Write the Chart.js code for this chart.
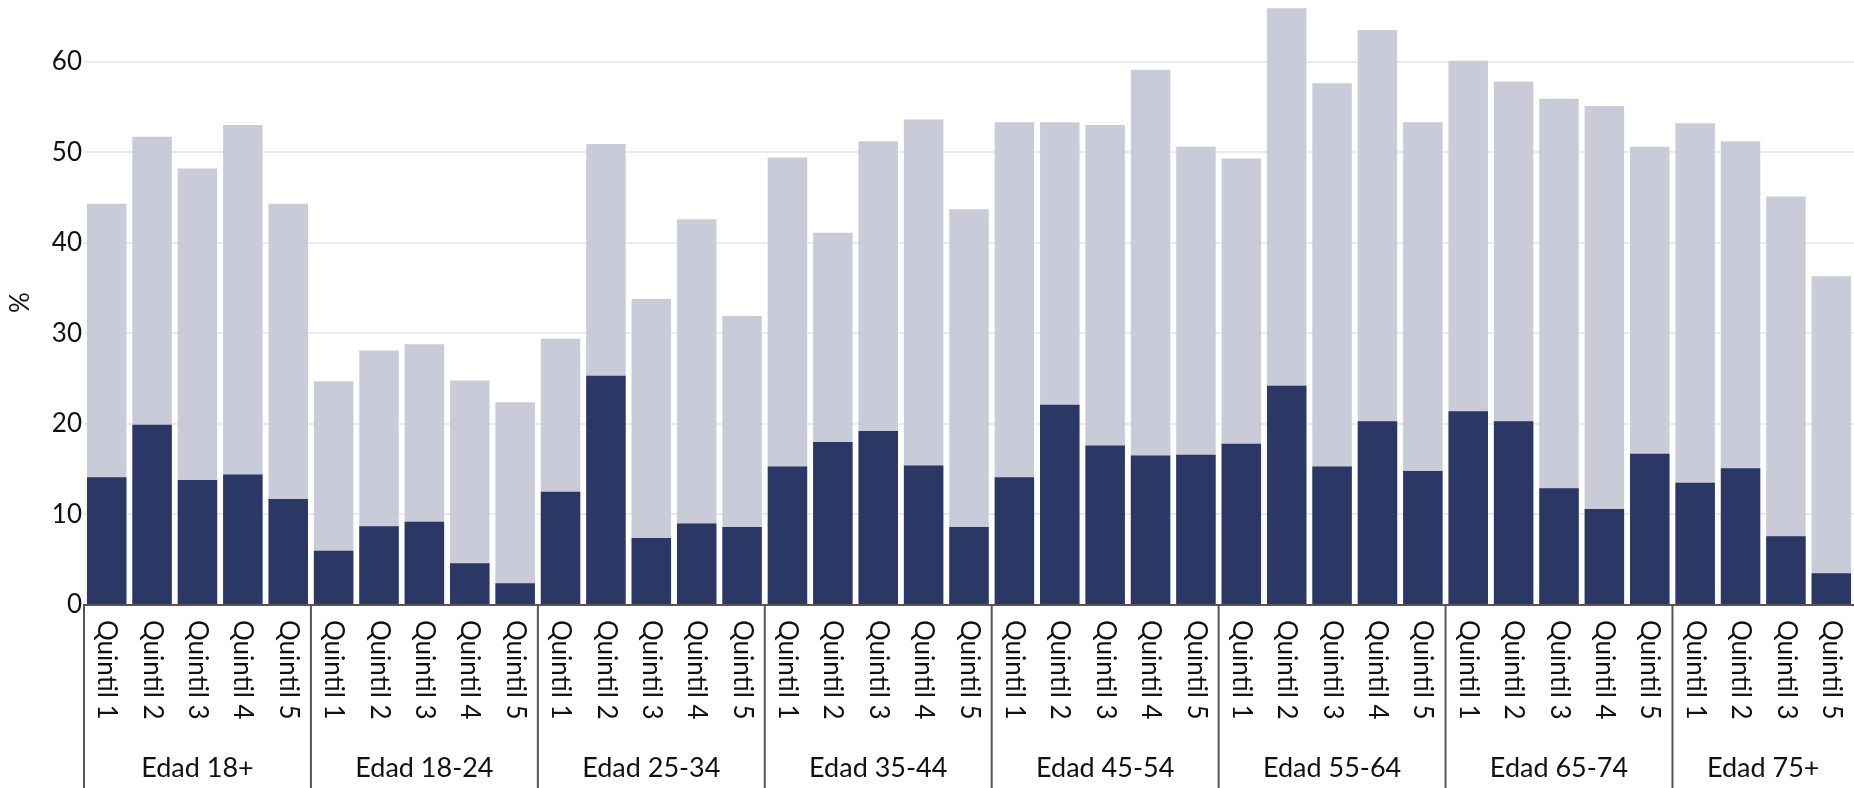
<!DOCTYPE html>
<html>
<head>
<meta charset="utf-8">
<script src="https://cdn.jsdelivr.net/npm/chart.js@4/dist/chart.umd.min.js"></script>
<style>
    html, body { margin: 0; padding: 0; background: #fff; }
    #wrap { width: 1854px; height: 788px; }
</style>
</head>
<body>
<div id="wrap"><canvas id="grafico"></canvas></div>
<script>
const grupos = ['Edad 18+', 'Edad 18-24', 'Edad 25-34', 'Edad 35-44', 'Edad 45-54', 'Edad 55-64', 'Edad 65-74', 'Edad 75+'];
const quintiles = [
    ['Quintil 1', 'Quintil 2', 'Quintil 3', 'Quintil 4', 'Quintil 5'],
    ['Quintil 1', 'Quintil 2', 'Quintil 3', 'Quintil 4', 'Quintil 5'],
    ['Quintil 1', 'Quintil 2', 'Quintil 3', 'Quintil 4', 'Quintil 5'],
    ['Quintil 1', 'Quintil 2', 'Quintil 3', 'Quintil 4', 'Quintil 5'],
    ['Quintil 1', 'Quintil 2', 'Quintil 3', 'Quintil 4', 'Quintil 5'],
    ['Quintil 1', 'Quintil 2', 'Quintil 3', 'Quintil 4', 'Quintil 5'],
    ['Quintil 1', 'Quintil 2', 'Quintil 3', 'Quintil 4', 'Quintil 5'],
    ['Quintil 1', 'Quintil 2', 'Quintil 3', 'Quintil 5']
];

// barra clara (total) y barra oscura, en el mismo orden que las etiquetas
const valoresTotal = [
    44.3, 51.7, 48.2, 53.0, 44.3,
    24.7, 28.1, 28.8, 24.8, 22.4,
    29.4, 50.9, 33.8, 42.6, 31.9,
    49.4, 41.1, 51.2, 53.6, 43.7,
    53.3, 53.3, 53.0, 59.1, 50.6,
    49.3, 65.9, 57.6, 63.5, 53.3,
    60.1, 57.8, 55.9, 55.1, 50.6,
    53.2, 51.2, 45.1, 36.3
];
const valoresOscuro = [
    14.1, 19.9, 13.8, 14.4, 11.7,
    6.0, 8.7, 9.2, 4.6, 2.4,
    12.5, 25.3, 7.4, 9.0, 8.6,
    15.3, 18.0, 19.2, 15.4, 8.6,
    14.1, 22.1, 17.6, 16.5, 16.6,
    17.8, 24.2, 15.3, 20.3, 14.8,
    21.4, 20.3, 12.9, 10.6, 16.7,
    13.5, 15.1, 7.6, 3.5
];
const ticksY = [0, 10, 20, 30, 40, 50, 60];

var etiquetas = [];
var inicioGrupo = [];
for (let g = 0; g < grupos.length; g++) {
    inicioGrupo.push(etiquetas.length);
    for (let q = 0; q < quintiles[g].length; q++) {
        etiquetas.push(quintiles[g][q]);
    }
}

const fuente = 'Lato, "DejaVu Sans", sans-serif';

// dibuja etiquetas giradas y nombres de grupo debajo del eje x
const etiquetasEjeX = {
    id: 'etiquetasEjeX',
    afterDraw(chart) {
        const ctx = chart.ctx;
        const x = chart.scales.x;
        const base = x.top;
        const paso = x.width / etiquetas.length;
        ctx.save();
        ctx.fillStyle = '#111';
        ctx.font = '26px ' + fuente;
        for (let i = 0; i < etiquetas.length; i++) {
            ctx.save();
            ctx.translate(x.getPixelForValue(i), base + 15);
            ctx.rotate(Math.PI / 2);
            ctx.textAlign = 'left';
            ctx.textBaseline = 'middle';
            ctx.fillText(etiquetas[i], 0, 0);
            ctx.restore();
        }
        ctx.strokeStyle = '#555';
        ctx.lineWidth = 2;
        ctx.font = '27px ' + fuente;
        ctx.textAlign = 'center';
        ctx.textBaseline = 'middle';
        for (let g = 0; g < grupos.length; g++) {
            const ini = inicioGrupo[g];
            const fin = g + 1 < grupos.length ? inicioGrupo[g + 1] - 1 : etiquetas.length - 1;
            const xIni = x.getPixelForValue(ini) - paso / 2;
            ctx.beginPath();
            ctx.moveTo(xIni, base);
            ctx.lineTo(xIni, chart.height);
            ctx.stroke();
            const xCentro = (x.getPixelForValue(ini) + x.getPixelForValue(fin)) / 2;
            ctx.fillText(grupos[g], xCentro, base + 163);
        }
        ctx.restore();
    }
};

const grafico = new Chart(document.getElementById('grafico'), {
    type: 'bar',
    data: {
        labels: etiquetas,
        datasets: [{
            label: 'Oscuro',
            data: valoresOscuro,
            backgroundColor: '#2b3764',
            grouped: false,
            barPercentage: 0.87,
            categoryPercentage: 1,
            order: 0
        }, {
            label: 'Total',
            data: valoresTotal,
            backgroundColor: '#c9cbd8',
            grouped: false,
            barPercentage: 0.87,
            categoryPercentage: 1,
            order: 1
        }]
    },
    options: {
        responsive: true,
        maintainAspectRatio: false,
        animation: false,
        layout: { padding: 0 },
        plugins: {
            legend: { display: false },
            tooltip: { enabled: false }
        },
        scales: {
            x: {
                grid: { display: false },
                border: { display: true, color: '#555', width: 2 },
                ticks: { display: false },
                afterFit: function (s) { s.height = 183; }
            },
            y: {
                min: 0,
                max: 66.8,
                border: { display: false },
                grid: { color: '#ebebeb', lineWidth: 2, drawTicks: false },
                ticks: {
                    padding: 2,
                    color: '#111',
                    font: { family: fuente, size: 26 }
                },
                afterBuildTicks: function (s) {
                    s.ticks = ticksY.map(v => ({ value: v }));
                },
                afterFit: function (s) {
                    s.width = 84;
                    s.paddingTop = 0;
                    s.paddingBottom = 0;
                },
                title: {
                    display: true,
                    text: '%',
                    color: '#111',
                    font: { family: fuente, size: 26 },
                    padding: { top: 5, bottom: 0 }
                }
            }
        }
    },
    plugins: [etiquetasEjeX]
});
</script>
</body>
</html>
